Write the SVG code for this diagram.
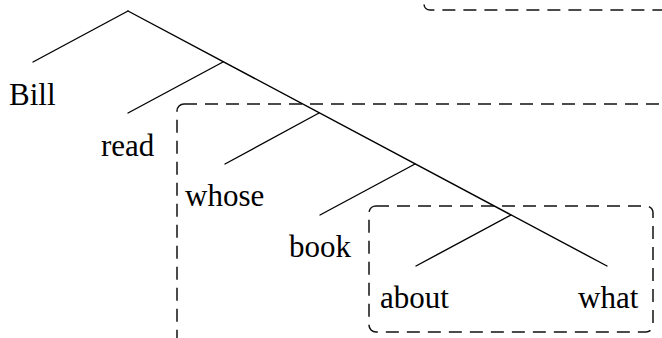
<svg xmlns="http://www.w3.org/2000/svg" width="662" height="338" viewBox="0 0 662 338">
  <style>
    .edge { stroke: #000; stroke-width: 1.4; fill: none; stroke-linecap: round; }
    .box { stroke: #111; stroke-width: 1.5; fill: none; stroke-dasharray: 13 8; }
    .lbl { font-family: "Liberation Serif", "Times New Roman", serif; font-size: 31px; fill: #000; }
  </style>
  <rect width="662" height="338" fill="#fff"/>

  <!-- constituent boxes -->
  <g id="boxes">
    <rect id="box-top" class="box" x="424" y="-40" width="280" height="50" rx="6"/>
    <rect id="box-whose" class="box" x="177" y="104" width="488" height="280" rx="7"/>
    <rect id="box-about" class="box" x="369" y="206" width="284" height="126" rx="7"/>
  </g>

  <!-- tree branches -->
  <g id="connectors">
    <line class="edge" x1="128" y1="11" x2="607" y2="266"/>
    <line class="edge" x1="128" y1="11" x2="33" y2="62"/>
    <line class="edge" x1="223" y1="62" x2="128" y2="113"/>
    <line class="edge" x1="319" y1="113" x2="225" y2="164"/>
    <line class="edge" x1="415" y1="164" x2="320" y2="215"/>
    <line class="edge" x1="511" y1="215" x2="416" y2="266"/>
  </g>

  <g id="bill"><text class="lbl" x="9" y="105">Bill</text></g>
  <g id="read"><text class="lbl" x="101" y="156">read</text></g>
  <g id="whose"><text class="lbl" x="185" y="206">whose</text></g>
  <g id="book"><text class="lbl" x="289" y="257">book</text></g>
  <g id="about"><text class="lbl" x="380" y="308">about</text></g>
  <g id="what"><text class="lbl" x="578" y="308">what</text></g>
</svg>
